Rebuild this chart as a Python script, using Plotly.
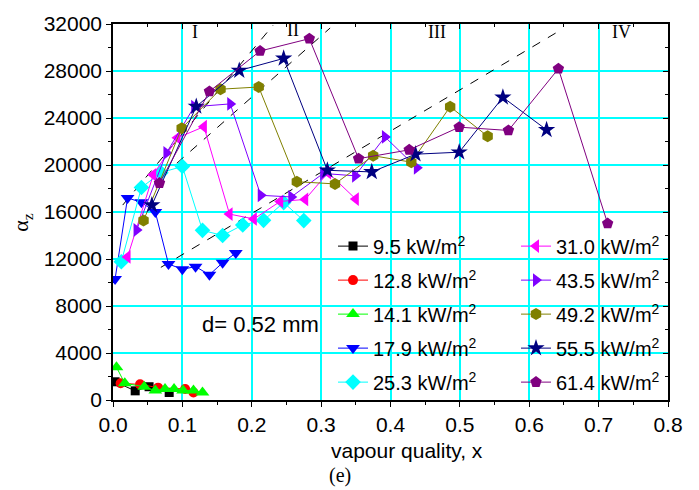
import plotly.graph_objects as go

# ---------------- data ----------------
labels = ["9.5 kW/m<sup>2</sup>", "12.8 kW/m<sup>2</sup>", "14.1 kW/m<sup>2</sup>",
          "17.9 kW/m<sup>2</sup>", "25.3 kW/m<sup>2</sup>", "31.0 kW/m<sup>2</sup>",
          "43.5 kW/m<sup>2</sup>", "49.2 kW/m<sup>2</sup>", "55.5 kW/m<sup>2</sup>",
          "61.4 kW/m<sup>2</sup>"]

x_95 = [0.003, 0.032, 0.052, 0.081]
y_95 = [1550, 780, 1130, 640]

x_128 = [0.011, 0.039, 0.065, 0.104, 0.116]
y_128 = [1420, 1330, 1050, 940, 640]

x_141 = [0.005, 0.017, 0.045, 0.061, 0.075, 0.088, 0.101, 0.116, 0.129]
y_141 = [2790, 1420, 1130, 800, 940, 940, 800, 800, 640]

x_179 = [0.003, 0.021, 0.041, 0.061, 0.080, 0.100, 0.119, 0.139, 0.158, 0.177]
y_179 = [10300, 17200, 16820, 15990, 11570, 11130, 11350, 10660, 11680, 12510]

x_253 = [0.012, 0.041, 0.069, 0.100, 0.129, 0.158, 0.187, 0.217, 0.246, 0.275]
y_253 = [11770, 18080, 19350, 19880, 14440, 14000, 14900, 15290, 16800, 15270]

x_310 = [0.021, 0.058, 0.093, 0.131, 0.168, 0.203, 0.241, 0.277, 0.310, 0.350]
y_310 = [12180, 19160, 22310, 23260, 15820, 15410, 16900, 17070, 19350, 17100]

x_435 = [0.034, 0.077, 0.117, 0.169, 0.213, 0.257, 0.303, 0.349, 0.392, 0.438]
y_435 = [14470, 21020, 24960, 25200, 17420, 17280, 19280, 19080, 22390, 19760]

x_492 = [0.044, 0.099, 0.155, 0.210, 0.265, 0.320, 0.375, 0.430, 0.486, 0.540]
y_492 = [15270, 23130, 26450, 26640, 18580, 18390, 20790, 20240, 24960, 22450]

x_555 = [0.056, 0.120, 0.182, 0.246, 0.309, 0.373, 0.436, 0.499, 0.562, 0.625]
y_555 = [16590, 24980, 28040, 29070, 19550, 19410, 20920, 21090, 25760, 22990]

x_614 = [0.067, 0.139, 0.212, 0.283, 0.354, 0.427, 0.499, 0.570, 0.642, 0.713]
y_614 = [18460, 26260, 29700, 30750, 20540, 21290, 23220, 22940, 28190, 15020]

# dashed boundary lines (start, end)
bx1 = [0.014, 0.231]
by1 = [16590, 31910]
bx2 = [0.092, 0.313]
by2 = [20150, 31660]
bx3 = [0.069, 0.641]
by3 = [11290, 31330]

region_labels = ["I", "II", "III", "IV"]
region_x = [0.118, 0.259, 0.467, 0.733]
region_y = [31350, 31450, 31350, 31350]

# ---------------- style ----------------
series = [
    (x_95, y_95, "#000000", "square", 9),
    (x_128, y_128, "#FF0000", "circle", 10),
    (x_141, y_141, "#00FF00", "triangle-up", 12),
    (x_179, y_179, "#0000FF", "triangle-down", 12),
    (x_253, y_253, "#00FFFF", "diamond", 12),
    (x_310, y_310, "#FF00FF", "triangle-left", 12),
    (x_435, y_435, "#8000FF", "triangle-right", 12),
    (x_492, y_492, "#808000", "hexagon", 12),
    (x_555, y_555, "#000080", "star", 13),
    (x_614, y_614, "#800080", "pentagon", 12),
]

fig = go.Figure()

for bx, by in [(bx1, by1), (bx2, by2), (bx3, by3)]:
    fig.add_trace(go.Scatter(x=bx, y=by, mode="lines", showlegend=False,
                             line=dict(color="black", width=1, dash="dash"),
                             hoverinfo="skip"))

for i, (xs, ys, col, sym, sz) in enumerate(series):
    fig.add_trace(go.Scatter(
        x=xs, y=ys, mode="lines+markers", name=labels[i],
        line=dict(color=col, width=1),
        marker=dict(symbol=sym, size=sz, color=col, line=dict(width=0)),
        legend="legend" if i < 5 else "legend2",
        legendgroup="g%d" % i,
    ))

for t, xx, yy in zip(region_labels, region_x, region_y):
    fig.add_annotation(x=xx, y=yy, text=t, showarrow=False, yanchor="middle",
                       font=dict(family="Liberation Serif", size=18, color="black"))

fig.add_annotation(x=0.212, y=6410, text="d= 0.52 mm", showarrow=False,
                   font=dict(family="Liberation Sans", size=22, color="black"))

fig.add_annotation(xref="paper", yref="paper", x=(407 - 113) / 555, y=(400 - 452) / 386,
                   xanchor="center", yanchor="middle",
                   text="vapour quality, x", showarrow=False,
                   font=dict(family="Liberation Sans", size=21, color="black"))
fig.add_annotation(xref="paper", yref="paper", x=(340 - 113) / 555, y=(400 - 477) / 386,
                   xanchor="center", yanchor="middle",
                   text="(e)", showarrow=False,
                   font=dict(family="Liberation Serif", size=20, color="black"))
fig.add_annotation(xref="paper", yref="paper", x=(22 - 113) / 555, y=(400 - 218) / 386,
                   xanchor="center", yanchor="middle",
                   text="α<sub>z</sub>", showarrow=False, textangle=-90,
                   font=dict(family="Liberation Serif", size=22, color="black"))

axis_common = dict(showline=True, linecolor="black", linewidth=1.5,
                   ticklen=5, tickwidth=1.2, tickcolor="black")

fig.update_layout(
    width=699, height=490,
    margin=dict(l=113, r=31, t=14, b=90),
    paper_bgcolor="white", plot_bgcolor="white",
    font=dict(family="Liberation Sans", size=20, color="black"),
    xaxis=dict(range=[0, 0.8], dtick=0.1, tick0=0, tickformat=".1f",
               tickfont=dict(size=21),
               showgrid=True, gridcolor="#00FFFF", gridwidth=1.5,
               ticks="outside", zeroline=False,
               minor=dict(ticks="outside", dtick=0.05, ticklen=3, tickcolor="black", showgrid=False),
               **axis_common),
    yaxis=dict(range=[0, 32000], dtick=4000, tick0=0, tickformat="d",
               tickfont=dict(size=21),
               showgrid=True, gridcolor="#00FFFF", gridwidth=1.5,
               ticks="outside", zeroline=False,
               minor=dict(ticks="outside", dtick=2000, ticklen=3, tickcolor="black", showgrid=False),
               **axis_common),
    xaxis2=dict(range=[0, 0.8], overlaying="x", side="top", dtick=0.1, tick0=0,
                showticklabels=False, showgrid=False, zeroline=False, ticks="inside",
                minor=dict(ticks="inside", dtick=0.05, ticklen=3, tickcolor="black"),
                **axis_common),
    yaxis2=dict(range=[0, 32000], overlaying="y", side="right", dtick=4000, tick0=0,
                showticklabels=False, showgrid=False, zeroline=False, ticks="inside",
                minor=dict(ticks="inside", dtick=2000, ticklen=3, tickcolor="black"),
                **axis_common),
    legend=dict(x=(333 - 113) / 555, y=(400 - 222) / 386, xanchor="left", yanchor="top",
                bgcolor="rgba(0,0,0,0)", font=dict(size=20), tracegroupgap=5),
    legend2=dict(x=(516 - 113) / 555, y=(400 - 222) / 386, xanchor="left", yanchor="top",
                 bgcolor="rgba(0,0,0,0)", font=dict(size=20), tracegroupgap=5),
)

# invisible trace to activate secondary axes
fig.add_trace(go.Scatter(x=[0], y=[0], xaxis="x2", yaxis="y2", mode="markers",
                         marker=dict(opacity=0), showlegend=False, hoverinfo="skip"))

fig.write_html("out.html")
